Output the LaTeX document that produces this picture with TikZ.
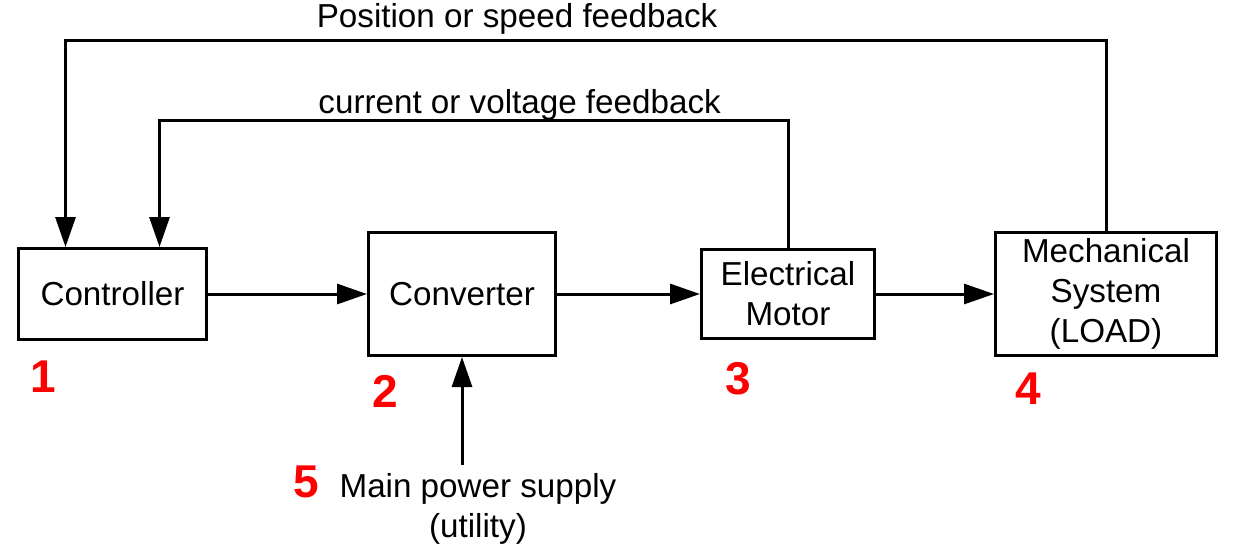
\documentclass[tikz,border=0pt]{standalone}
\usepackage{fontspec}
\setmainfont{Liberation Sans}
\usepackage{tikz}
\usetikzlibrary{arrows.meta, positioning}

\begin{document}
\begin{tikzpicture}[
  x=0.5pt, y=-0.5pt,
  font=\fontsize{16.6}{20}\selectfont,
  block/.style={rectangle, draw, line width=1.5pt, align=center, inner sep=2pt},
  num/.style={text=red, inner sep=0pt, font=\fontsize{23}{23}\selectfont\bfseries},
  lbl/.style={inner sep=0pt, align=center},
  arr/.style={-{Triangle[length=15pt, width=10pt]}, line width=1.5pt}
]
\useasboundingbox (0,0) rectangle (1233,543);

% Blocks
\node[block, minimum width=94pt, minimum height=45.5pt] (ctrl) at (112.5,294) {Controller};
\node[block, minimum width=93.5pt, minimum height=61.5pt, right=79.5pt of ctrl] (conv) {Converter};
\node[block, minimum width=86.5pt, minimum height=44.5pt, right=71.5pt of conv] (motor) {Electrical\\Motor};
\node[block, minimum width=110.5pt, minimum height=61.5pt, right=59pt of motor] (mech) {Mechanical\\System\\(LOAD)};

% Numbers
\node[num] (n1) at ([xshift=13pt, yshift=-18pt]ctrl.south west) {1};
\node[num] (n2) at ([xshift=9pt, yshift=-17pt]conv.south west) {2};
\node[num] (n3) at ([xshift=19pt, yshift=-19.5pt]motor.south west) {3};
\node[num] (n4) at ([xshift=17pt, yshift=-16pt]mech.south west) {4};

% Supply
\coordinate[below=54pt of conv.south] (mains);
\node[lbl, below=4pt of mains, xshift=8pt] (supply) {Main power supply\\(utility)};
\node[num, anchor=base east] (n5) at ([xshift=-10pt, yshift=-12pt]supply.north west) {5};

% Arrows
\draw[arr] (ctrl) -- (conv);
\draw[arr] (conv) -- (motor);
\draw[arr] (motor) -- (mech);
\draw[arr] (mains) -- (conv.south);

% Feedback
\draw[arr] (mech.north) -- ++(0,95.5pt) -|
  node[pos=0.283, anchor=base, yshift=6.5pt] (fbpos) {Position or speed feedback}
  ([xshift=-23.5pt]ctrl.north);
\draw[arr] (motor.north) -- ++(0,64pt) -|
  node[pos=0.2135, anchor=base, yshift=3.5pt] (fbcur) {current or voltage feedback}
  ([xshift=23.5pt]ctrl.north);

\end{tikzpicture}
\end{document}
